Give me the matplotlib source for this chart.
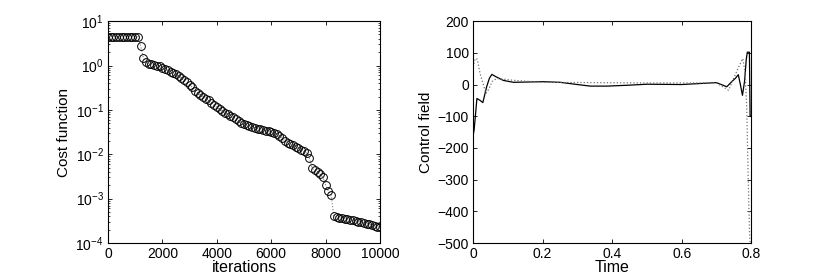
import numpy as np
import matplotlib
matplotlib.use("Agg")
import matplotlib.pyplot as plt

plt.rcParams["font.family"] = ["Liberation Sans", "DejaVu Sans"]
plt.rcParams["mathtext.fontset"] = "custom"
plt.rcParams["mathtext.rm"] = "Liberation Sans"
plt.rcParams["mathtext.it"] = "Liberation Sans:italic"
plt.rcParams["mathtext.bf"] = "Liberation Sans:bold"

# ----------------- Data -----------------
# cost function, sampled every 100 iterations
iterations = np.arange(0, 10001, 100)
cost = [
    4.47, 4.47, 4.47, 4.47, 4.47, 4.47, 4.47, 4.47, 4.47, 4.47, 4.47, 4.47,   # 0-1100
    2.82, 1.48, 1.17, 1.10, 1.07, 1.05, 1.00, 0.95, 0.89,                     # 1200-2000
    0.83, 0.78, 0.72, 0.68, 0.63, 0.575, 0.525, 0.47, 0.42, 0.37,             # 2100-3000
    0.32, 0.26, 0.24, 0.22, 0.20, 0.18, 0.166, 0.141, 0.126, 0.115,           # 3100-4000
    0.105, 0.095, 0.087, 0.079, 0.074, 0.069, 0.063, 0.055, 0.050, 0.047,     # 4100-5000
    0.045, 0.043, 0.041, 0.040, 0.038, 0.037, 0.0355, 0.034, 0.033, 0.0316,   # 5100-6000
    0.030, 0.029, 0.026, 0.023, 0.020, 0.0178, 0.0166, 0.0158, 0.0148, 0.0138,  # 6100-7000
    0.0126, 0.0117, 0.0107, 0.0083, 0.0048, 0.0044, 0.0040, 0.0035, 0.0030, 0.0020,  # 7100-8000
    0.0015, 0.0012,                                                           # 8100-8200
    4.0e-4, 3.85e-4, 3.75e-4, 3.65e-4, 3.55e-4, 3.45e-4, 3.35e-4, 3.25e-4,    # 8300-9000
    3.15e-4, 3.05e-4, 2.95e-4, 2.85e-4, 2.75e-4, 2.65e-4, 2.55e-4, 2.45e-4,   # 9100-9800
    2.35e-4, 2.25e-4,                                                         # 9900-10000
]

# optimised control field (solid)
t_opt = [0.0, 0.003, 0.011, 0.02, 0.028, 0.039, 0.047, 0.054, 0.065, 0.087,
         0.116, 0.16, 0.202, 0.25, 0.3, 0.337, 0.385, 0.45, 0.5, 0.6,
         0.7, 0.73, 0.745, 0.755, 0.763, 0.769, 0.775, 0.781, 0.786, 0.789,
         0.795, 0.797, 0.8]
field_opt = [-160, -143, -44, -50, -57, -7, 20, 32, 25, 13,
             7, 8, 9, 7, 0, -5, -5, -2, 1, 0,
             6, -7, 10, 20, 31, 0, -34, 10, 80, 102,
             102, -100, -100]

# initial/reference field (dotted)
t_ref = [0.0, 0.006, 0.012, 0.02, 0.03, 0.037, 0.045, 0.055, 0.068, 0.12,
         0.2, 0.35, 0.5, 0.7, 0.735, 0.75, 0.766, 0.776, 0.782, 0.787,
         0.79, 0.795, 0.797]
field_ref = [55, 82, 80, 35, -2, -28, -15, 10, 19, 13,
             7, 6, 5, 5, -18, 20, 60, 82, 40, -59,
             -216, -458, -500]

# ----------------- Plot -----------------
fig = plt.figure(figsize=(8.30, 2.77), dpi=100)
ax1 = fig.add_axes([0.130, 0.1227, 0.328, 0.801])
ax2 = fig.add_axes([0.570, 0.1227, 0.335, 0.801])

ax1.semilogy(iterations, cost, linestyle=":", color="0.5", linewidth=0.8,
             marker="o", markersize=5.6, markerfacecolor="none",
             markeredgecolor="black", markeredgewidth=0.7)
ax1.set_xlim(0, 10000)
ax1.set_ylim(1e-4, 1e1)
ax1.set_xticks([0, 2000, 4000, 6000, 8000, 10000])
ax1.set_yticks([1e-4, 1e-3, 1e-2, 1e-1, 1e0, 1e1])
ax1.set_xlabel("iterations", fontsize=11.5, labelpad=-1)
ax1.set_ylabel("Cost function", fontsize=11, labelpad=3)

ax2.plot(t_opt, field_opt, color="black", linewidth=0.9)
ax2.plot(t_ref, field_ref, color="0.45", linestyle=":", linewidth=0.9)
ax2.set_xlim(0, 0.8)
ax2.set_ylim(-500, 200)
ax2.set_xticks([0, 0.2, 0.4, 0.6, 0.8])
ax2.set_xticklabels(["0", "0.2", "0.4", "0.6", "0.8"])
ax2.set_yticks(range(-500, 201, 100))
ax2.set_xlabel("Time", fontsize=11.5, labelpad=-1)
ax2.set_ylabel("Control field", fontsize=11, labelpad=3)

for ax in (ax1, ax2):
    ax.tick_params(which="both", direction="in", top=True, right=True,
                   labelsize=10, pad=3)
    ax.tick_params(which="major", length=3, width=0.6)
    ax.tick_params(which="minor", length=1.5, width=0.5)
    for sp in ax.spines.values():
        sp.set_linewidth(0.8)

fig.savefig("out.png", dpi=100)
